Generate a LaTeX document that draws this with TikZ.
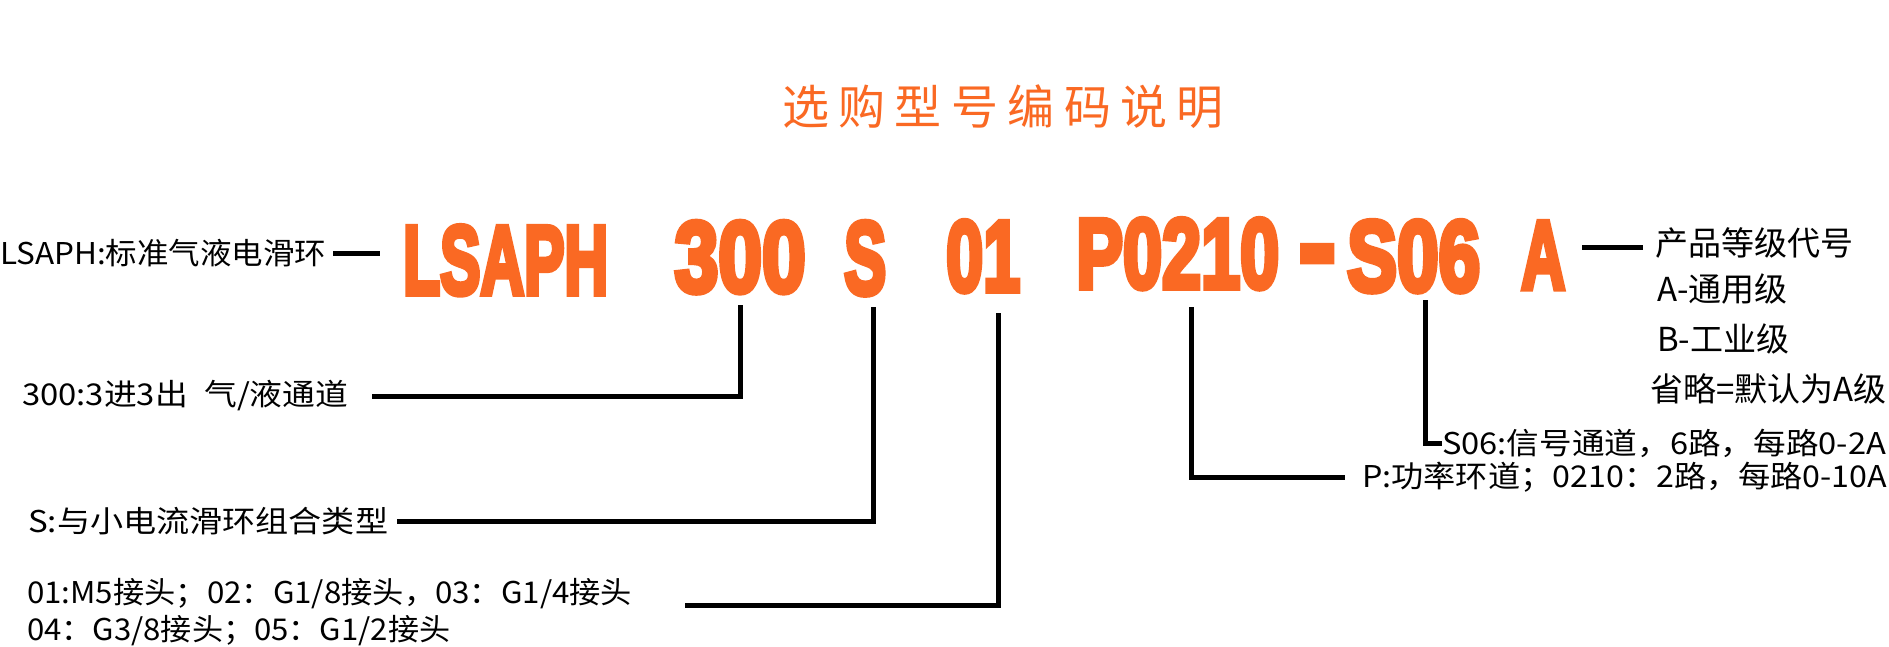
\documentclass[tikz,border=0pt]{standalone}
\usepackage{fontspec}
\usepackage{graphicx}
\usetikzlibrary{calc}
\newfontfamily\cjkfont{Noto Sans CJK SC}
\newfontfamily\bigfont{Liberation Sans}[BoldFeatures={FakeBold=6}]
\definecolor{brandorange}{RGB}{250,105,35}
\tikzset{
  tok/.style={inner sep=0, anchor=south west, text=brandorange, font=\bigfont\bfseries\fontsize{95}{95}\selectfont},
  lbl/.style={inner sep=0, anchor=west, text=black, font=\cjkfont\fontsize{30}{30}\selectfont},
  rlbl/.style={inner sep=0, anchor=west, text=black, font=\cjkfont\fontsize{33}{33}\selectfont},
  titlestyle/.style={inner sep=0, anchor=west, text=brandorange, font=\cjkfont\fontsize{47}{47}\selectfont\addfontfeature{LetterSpace=20}},
  conn/.style={line width=5pt, line join=miter, line cap=butt, draw=black}
}
\begin{document}
\begin{tikzpicture}[x=1pt,y=-1pt]
\useasboundingbox (0,0) rectangle (1889,647);
\fill[white] (0,0) rectangle (1889,647);

% title
\node[titlestyle] (title) at (782,107) {选购型号编码说明};

% code tokens
\node[tok] (tL) at (403,295) {\resizebox{205pt}{68pt}{LSAPH}};
\node[tok] (t300) at (674.5,293) {\resizebox{131pt}{70pt}{300}};
\node[tok] (tS) at (844,295) {\resizebox{42pt}{72pt}{S}};
\node[tok] (t01) at (946,292) {\resizebox{74pt}{70pt}{01}};
\node[tok] (tP) at (1076,289) {\resizebox{203pt}{69pt}{P0210}};
\node[tok,anchor=base west] (tD) at (1299,285) {\scalebox{0.9}[1]{\fontsize{121}{121}\selectfont -}};
\node[tok] (tS06) at (1347,292) {\resizebox{133pt}{70pt}{S06}};
\node[tok] (tA) at (1521,289) {\resizebox{44pt}{67pt}{A}};

% left labels
\node[lbl] (lL) at (0,253) {\resizebox{326pt}{\height}{LSAPH:标准气液电滑环}};
\node[lbl] (l300) at (22,396) {\resizebox{326pt}{\height}{300:3进3出\hspace{0.5em}气/液通道}};
\node[lbl] (lS) at (28,521) {\resizebox{360pt}{\height}{S:与小电流滑环组合类型}};
\node[lbl] (l01a) at (27,594) {\resizebox{605pt}{\height}{01:M5接头；02：G1/8接头，03：G1/4接头}};
\node[lbl] (l01b) at (27,631) {\resizebox{423pt}{\height}{04：G3/8接头；05：G1/2接头}};

% right labels
\node[lbl] (lS06) at (1442,443) {\resizebox{444pt}{\height}{S06:信号通道，6路，每路0-2A}};
\node[lbl] (lP) at (1362,477) {\resizebox{525pt}{\height}{P:功率环道；0210：2路，每路0-10A}};
\node[rlbl] (g1) at (1655,243) {产品等级代号};
\node[rlbl] (g2) at (1657,289) {A-通用级};
\node[rlbl] (g3) at (1657,339) {B-工业级};
\node[rlbl] (g4) at (1650,389) {省略=默认为A级};

% connector start points
\coordinate (v300) at ([yshift=-12pt]t300.south);
\coordinate (vS) at ([xshift=8pt,yshift=-12pt]tS.south);
\coordinate (v01) at ([xshift=15pt,yshift=-21pt]t01.south);
\coordinate (vP) at ([xshift=14pt,yshift=-18pt]tP.south);
\coordinate (vS06) at ([xshift=12pt,yshift=-8pt]tS06.south);

% connectors
\draw[conn] ($(lL.east)+(7,0)$) -- ($(tL.west |- lL.east)+(-23,0)$);
\draw[conn] ($(tA.east |- g1.west)+(17,4)$) -- ($(g1.west)+(-12,4)$);
\draw[conn] (v300) |- ($(l300.east)+(24,0)$);
\draw[conn] (vS) |- ($(lS.east)+(9,0)$);
\draw[conn] (v01) |- ($(l01a.east)+(53,11)$);
\draw[conn] (vP) |- ($(lP.west)+(-17,0)$);
\draw[conn] (vS06) |- (lS06.west);
\end{tikzpicture}
\end{document}
